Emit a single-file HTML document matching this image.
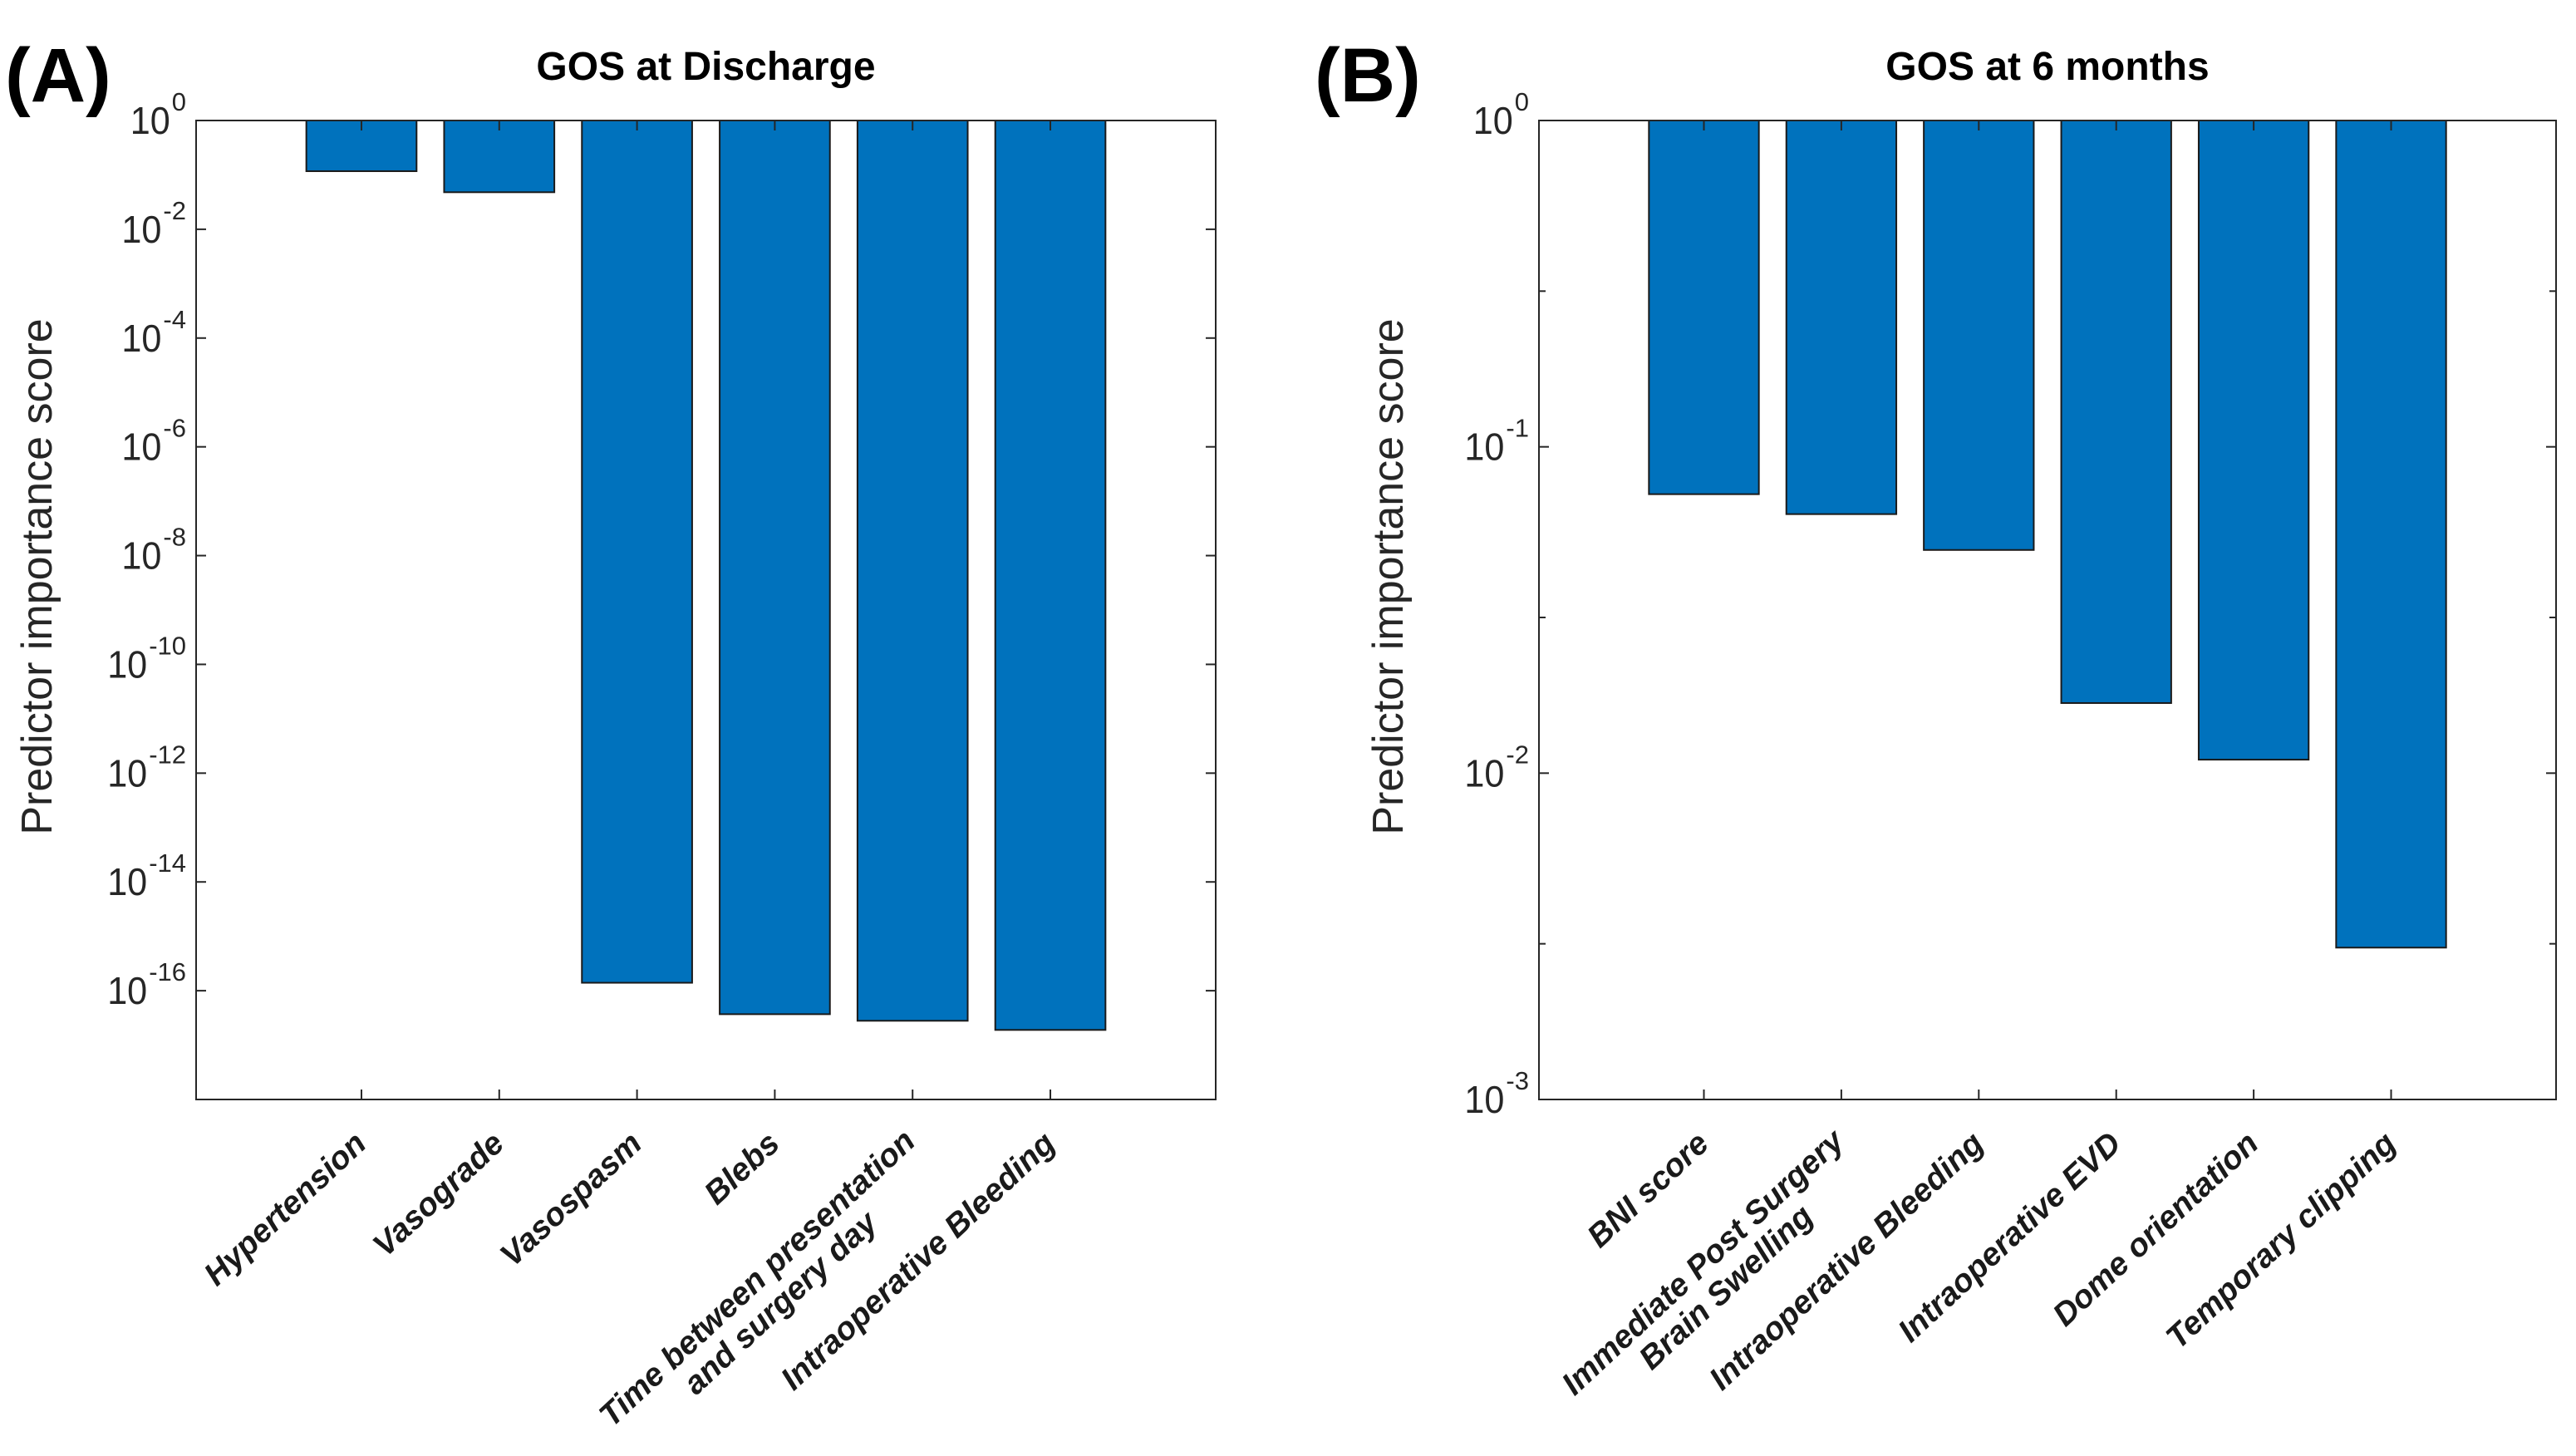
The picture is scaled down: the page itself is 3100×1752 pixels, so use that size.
<!DOCTYPE html>
<html><head><meta charset="utf-8"><style>
html,body{margin:0;padding:0;background:#fff;}
svg{display:block;font-family:"Liberation Sans",Arial,sans-serif;}
</style></head><body>
<svg id="fig" width="3100" height="1752" viewBox="0 0 3100 1752" xmlns="http://www.w3.org/2000/svg"></svg>
<script>
// Panel A data
const catsA = [["Hypertension"],["Vasograde"],["Vasospasm"],["Blebs"],["Time between presentation","and surgery day"],["Intraoperative Bleeding"]];
const valsA = [0.117, 0.048, 1.4e-16, 3.7e-17, 2.8e-17, 1.9e-17];
const ticksA = [0,-2,-4,-6,-8,-10,-12,-14,-16];
// Panel B data
const catsB = [["BNI score"],["Immediate Post Surgery","Brain Swelling"],["Intraoperative Bleeding"],["Intraoperative EVD"],["Dome orientation"],["Temporary clipping"]];
const valsB = [0.0716, 0.0622, 0.0483, 0.0164, 0.011, 0.00292];
const ticksB = [0,-1,-2,-3];
const minorB = [0.3, 0.03, 0.003];

const NS="http://www.w3.org/2000/svg";
const svg=document.getElementById('fig');
function mk(tag,attrs,parent){const e=document.createElementNS(NS,tag);for(const k in attrs)e.setAttribute(k,attrs[k]);(parent||svg).appendChild(e);return e;}

function panel(cfg){
  const g=mk('g',{});
  
  
  const {L,R,T,B,ymin,ymax,xa,xb}=cfg;
  const y=v=>T+(ymax-Math.log10(v))/(ymax-ymin)*(B-T);
  const ye=e=>T+(ymax-e)/(ymax-ymin)*(B-T);
  const x=i=>L+(i-xa)/(xb-xa)*(R-L);
  const bw=0.8/(xb-xa)*(R-L);
  cfg.vals.forEach((v,i)=>{
    const r=mk('rect',{x:x(i+1)-bw/2,y:T,width:bw,height:y(v)-T,fill:'#0072BD',stroke:'#1a1a1a','stroke-width':2},g);
    
    
  });
  const box=mk('rect',{x:L,y:T,width:R-L,height:B-T,fill:'none',stroke:'#262626','stroke-width':2},g);
  
  
  cfg.ticks.forEach(e=>{
    const yy=ye(e);
    mk('line',{x1:L,x2:L+12,y1:yy,y2:yy,stroke:'#262626','stroke-width':2},g);
    mk('line',{x1:R,x2:R-12,y1:yy,y2:yy,stroke:'#262626','stroke-width':2},g);
    const s=mk('text',{x:L-12,y:yy-12,'text-anchor':'end','font-size':31,fill:'#262626'},g);
    s.textContent=String(e);
    const sw=s.getComputedTextLength();
    const t=mk('text',{x:L-14-sw,y:yy+16,'text-anchor':'end','font-size':46,fill:'#262626',textLength:'48',lengthAdjust:'spacingAndGlyphs'},g);
    t.textContent='10';
    
    
  });
  (cfg.minor||[]).forEach(v=>{
    const yy=y(v);
    mk('line',{x1:L,x2:L+8,y1:yy,y2:yy,stroke:'#262626','stroke-width':2},g);
    mk('line',{x1:R,x2:R-8,y1:yy,y2:yy,stroke:'#262626','stroke-width':2},g);
  });
  cfg.cats.forEach((c,i)=>{
    const xx=x(i+1);
    mk('line',{x1:xx,x2:xx,y1:B,y2:B-12,stroke:'#262626','stroke-width':2},g);
    mk('line',{x1:xx,x2:xx,y1:T,y2:T+12,stroke:'#262626','stroke-width':2},g);
    const t=mk('text',{transform:`translate(${xx+8},${B+56}) rotate(-43)`,'text-anchor':'end','font-size':39,'font-weight':'bold','font-style':'italic',fill:'#1a1a1a'},g);
    
    
    if(c.length===1){t.textContent=c[0];}
    else{
      const a=mk('tspan',{x:0,dy:'-0.1em'},t);a.textContent=c[0];
      const b=mk('tspan',{x:0,dy:'1.05em'},t);b.textContent=c[1];
      const w0=a.getComputedTextLength(), w1=b.getComputedTextLength();
      b.setAttribute('x',-(w0-w1)/2);
    }
  });
  const ti=mk('text',{x:(L+R)/2,y:96,'text-anchor':'middle','font-size':48,'font-weight':'bold',fill:'#000'},g);
  ti.textContent=cfg.title;
  
  
  const yl=mk('text',{transform:`translate(${cfg.ylx},${(T+B)/2-40}) rotate(-90)`,'text-anchor':'middle','font-size':52,fill:'#262626'},g);
  yl.textContent='Predictor importance score';
  
  
  const pl=mk('text',{x:cfg.plx,y:122,'font-size':92,'font-weight':'bold',fill:'#000'},g);
  pl.textContent=cfg.letter;
  
  
}
panel({name:'panel-a',L:236,R:1463,T:145,B:1323,ymin:-18,ymax:0,xa:-0.2,xb:7.2,vals:valsA,cats:catsA,ticks:ticksA,title:'GOS at Discharge',ylx:62,plx:6,letter:'(A)'});
panel({name:'panel-b',L:1852,R:3076,T:145,B:1323,ymin:-3,ymax:0,xa:-0.2,xb:7.2,vals:valsB,cats:catsB,ticks:ticksB,minor:minorB,title:'GOS at 6 months',ylx:1688,plx:1582,letter:'(B)'});
</script>
</body></html>
